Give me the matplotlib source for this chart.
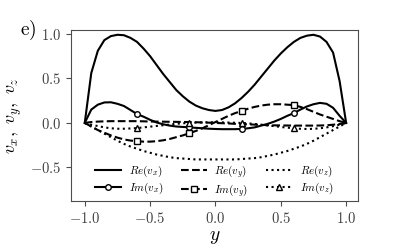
import numpy as np
import matplotlib
matplotlib.use("Agg")
from matplotlib import pyplot as plt
from matplotlib.ticker import FuncFormatter

plt.rcParams['mathtext.fontset'] = 'cm'
plt.rcParams['font.family'] = ['DejaVu Serif']

# wall-normal coordinate
y = [-1.00, -0.95, -0.90, -0.85, -0.80, -0.75, -0.70, -0.65, -0.60, -0.55,
     -0.50, -0.45, -0.40, -0.35, -0.30, -0.25, -0.20, -0.15, -0.10, -0.05,
     0.00, 0.05, 0.10, 0.15, 0.20, 0.25, 0.30, 0.35, 0.40, 0.45,
     0.50, 0.55, 0.60, 0.65, 0.70, 0.75, 0.80, 0.85, 0.90, 0.95, 1.00]

re_vx = [0.0, 0.56, 0.81, 0.93, 0.975, 0.99, 0.985, 0.955, 0.91, 0.835,
         0.75, 0.65, 0.55, 0.46, 0.37, 0.30, 0.24, 0.195, 0.165, 0.145,
         0.135, 0.145, 0.175, 0.22, 0.28, 0.35, 0.43, 0.52, 0.61, 0.70,
         0.78, 0.85, 0.91, 0.955, 0.98, 0.99, 0.97, 0.91, 0.79, 0.47, 0.0]
im_vx = [0.0, 0.15, 0.205, 0.23, 0.232, 0.215, 0.19, 0.145, 0.10, 0.07,
         0.035, 0.005, -0.015, -0.03, -0.04, -0.045, -0.05, -0.055, -0.06, -0.065,
         -0.068, -0.07, -0.07, -0.07, -0.067, -0.06, -0.05, -0.03, -0.01, 0.015,
         0.045, 0.08, 0.11, 0.15, 0.185, 0.21, 0.225, 0.215, 0.17, 0.08, 0.0]
re_vy = [0.0, 0.01, 0.015, 0.018, 0.02, 0.02, 0.02, 0.02, 0.02, 0.018,
         0.016, 0.015, 0.014, 0.013, 0.012, 0.011, 0.01, 0.008, 0.005, 0.003,
         0.0, -0.003, -0.006, -0.01, -0.013, -0.016, -0.019, -0.022, -0.025, -0.027,
         -0.028, -0.029, -0.03, -0.03, -0.03, -0.03, -0.029, -0.026, -0.02, -0.012, 0.0]
im_vy = [0.0, -0.04, -0.08, -0.11, -0.14, -0.165, -0.185, -0.198, -0.205, -0.21,
         -0.21, -0.205, -0.195, -0.18, -0.16, -0.14, -0.116, -0.09, -0.06, -0.025,
         0.01, 0.045, 0.08, 0.11, 0.135, 0.16, 0.18, 0.195, 0.205, 0.21,
         0.21, 0.205, 0.20, 0.18, 0.155, 0.125, 0.095, 0.07, 0.045, 0.02, 0.0]
re_vz = [0.0, -0.04, -0.08, -0.12, -0.16, -0.20, -0.235, -0.265, -0.29, -0.315,
         -0.335, -0.355, -0.37, -0.385, -0.395, -0.40, -0.405, -0.41, -0.41, -0.41,
         -0.41, -0.41, -0.41, -0.41, -0.405, -0.40, -0.395, -0.385, -0.37, -0.355,
         -0.335, -0.315, -0.29, -0.265, -0.235, -0.20, -0.16, -0.12, -0.08, -0.04, 0.0]
im_vz = [0.0, -0.02, -0.035, -0.05, -0.06, -0.065, -0.065, -0.062, -0.058, -0.05,
         -0.042, -0.034, -0.026, -0.018, -0.01, -0.004, 0.0, 0.004, 0.006, 0.007,
         0.007, 0.006, 0.004, 0.002, 0.0, -0.005, -0.012, -0.02, -0.028, -0.036,
         -0.045, -0.053, -0.06, -0.066, -0.068, -0.066, -0.06, -0.05, -0.036, -0.02, 0.0]

marks = [8, 16, 24, 32]   # markers at y = -0.6, -0.2, 0.2, 0.6

fig = plt.figure(figsize=(3.99, 2.49), dpi=100)
ax = fig.add_axes([0.178, 0.193, 0.719, 0.687])

lw = 1.5
ax.plot(y, re_vx, 'k-', lw=lw, label=r'$Re(v_x)$')
ax.plot(y, im_vx, 'k-', lw=lw, marker='o', ms=4, mfc='white', markevery=marks, label=r'$Im(v_x)$')
ax.plot(y, re_vy, 'k--', lw=lw, label=r'$Re(v_y)$')
ax.plot(y, im_vy, 'k--', lw=lw, marker='s', ms=4, mfc='white', markevery=marks, label=r'$Im(v_y)$')
ax.plot(y, re_vz, 'k:', lw=lw, label=r'$Re(v_z)$')
ax.plot(y, im_vz, 'k:', lw=lw, marker='^', ms=4, mfc='white', markevery=marks, label=r'$Im(v_z)$')

ax.set_xlim(-1.105, 1.09)
ax.set_ylim(-0.876, 1.045)
ax.set_xticks([-1.0, -0.5, 0.0, 0.5, 1.0])
ax.set_yticks([-0.5, 0.0, 0.5, 1.0])
fmt = FuncFormatter(lambda v, p: r'$%.1f$' % v)
ax.xaxis.set_major_formatter(fmt)
ax.yaxis.set_major_formatter(fmt)
ax.tick_params(labelsize=10.5, color='0.3', labelcolor='0.25', length=3.5)
for s in ax.spines.values():
    s.set_color('0.3')

ax.set_xlabel(r'$y$', fontsize=14, labelpad=2)
ax.set_ylabel(r'$v_x,\ v_y,\ v_z$', fontsize=13, labelpad=4)
fig.text(0.05, 0.86, r'$\mathrm{e)}$', fontsize=14)

ax.legend(loc='lower center', ncol=3, frameon=False, fontsize=8,
          handlelength=2.3, columnspacing=1.6, labelspacing=0.2,
          handletextpad=0.7, bbox_to_anchor=(0.5, -0.045))

fig.savefig('out.png', dpi=100)
